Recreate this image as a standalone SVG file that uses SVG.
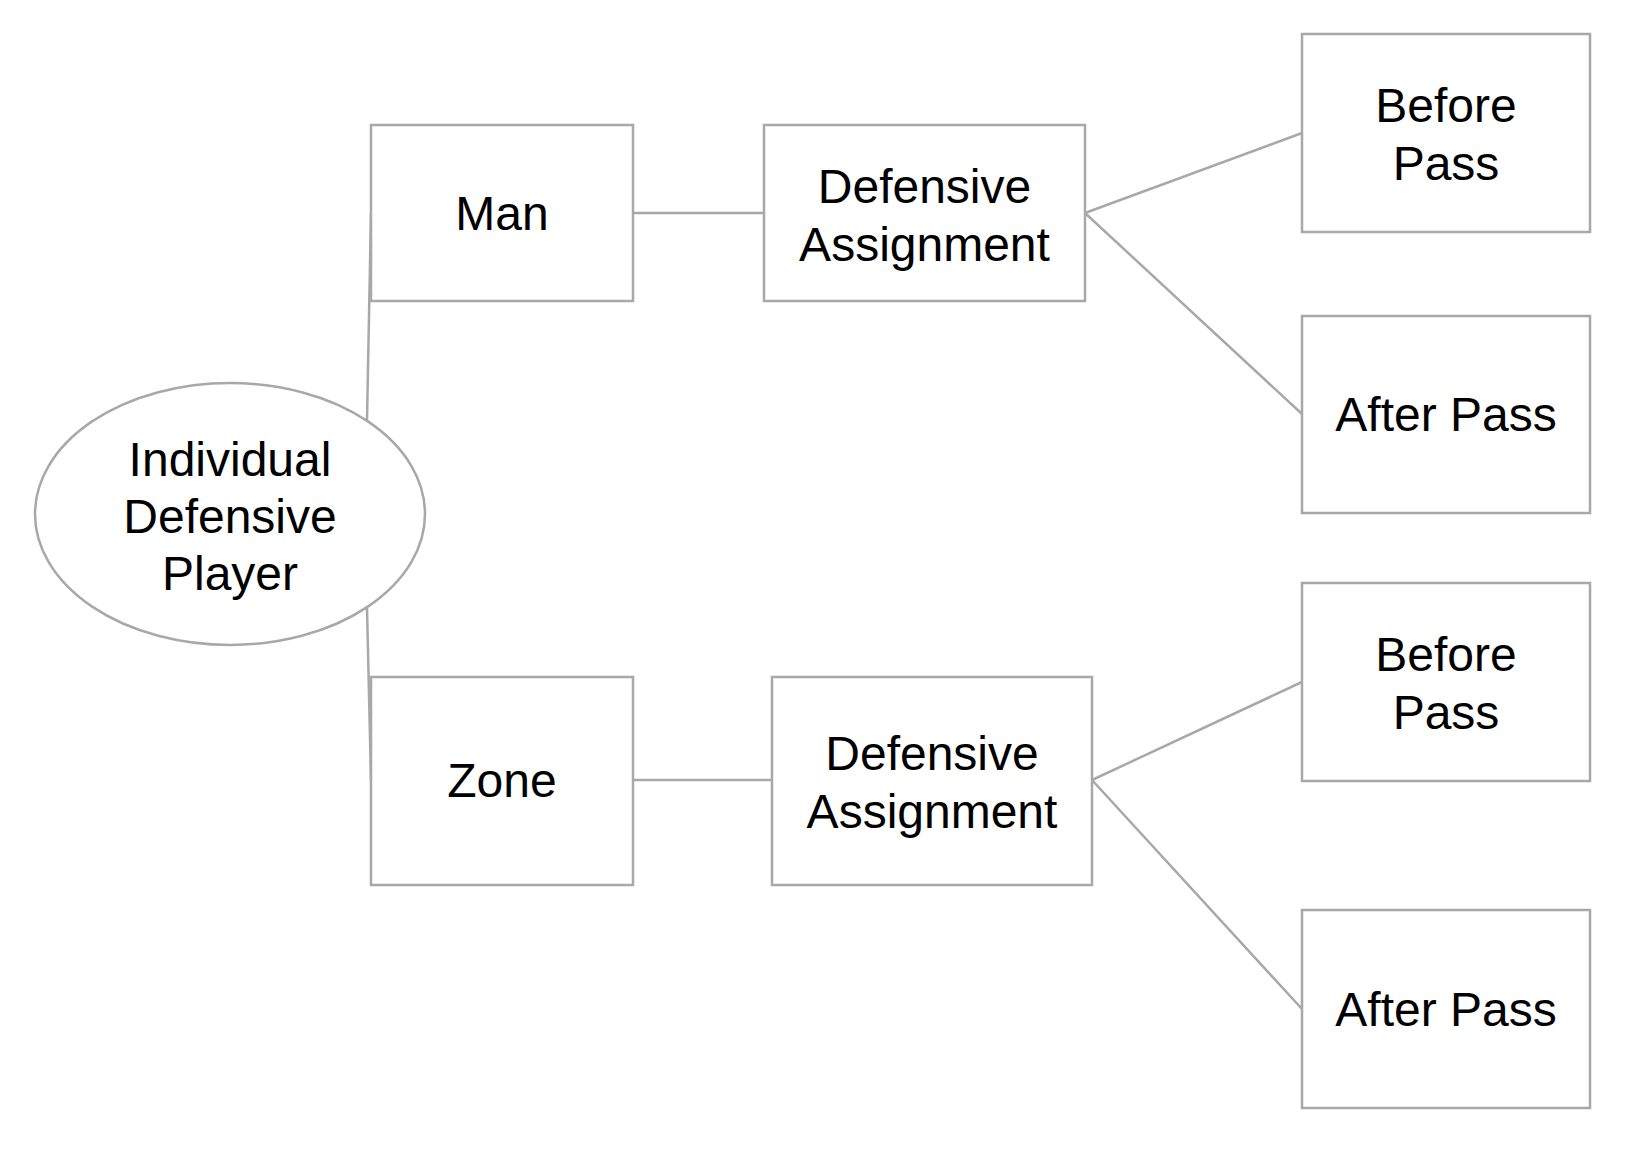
<svg xmlns="http://www.w3.org/2000/svg" width="1638" height="1150" viewBox="0 0 1638 1150">
<style>
.box{fill:#ffffff;stroke:#a8a8a8;stroke-width:2.5}
.ln{fill:none;stroke:#a8a8a8;stroke-width:2.5}
.t{font-family:"Liberation Sans",Arial,sans-serif;font-size:48px;fill:#000000;text-anchor:middle}
</style>
<rect width="1638" height="1150" fill="#ffffff"/>
<g id="connectors">
<line class="ln" x1="367" y1="420" x2="371" y2="213"/>
<line class="ln" x1="367" y1="608" x2="371" y2="780"/>
<line class="ln" x1="633" y1="213" x2="764" y2="213"/>
<line class="ln" x1="633" y1="780" x2="772" y2="780"/>
<line class="ln" x1="1085" y1="213" x2="1302" y2="133"/>
<line class="ln" x1="1085" y1="213" x2="1302" y2="414"/>
<line class="ln" x1="1092" y1="780" x2="1302" y2="682"/>
<line class="ln" x1="1092" y1="780" x2="1302" y2="1009"/>
</g>
<g id="player">
<ellipse class="box" cx="230" cy="514" rx="195" ry="131"/>
<text class="t" x="230" y="476">Individual</text>
<text class="t" x="230" y="533">Defensive</text>
<text class="t" x="230" y="590">Player</text>
</g>
<g id="man">
<rect class="box" x="371" y="125" width="262" height="176"/>
<text class="t" x="502" y="230">Man</text>
</g>
<g id="zone">
<rect class="box" x="371" y="677" width="262" height="208"/>
<text class="t" x="502" y="797">Zone</text>
</g>
<g id="assign1">
<rect class="box" x="764" y="125" width="321" height="176"/>
<text class="t" x="924.5" y="203">Defensive</text>
<text class="t" x="924.5" y="261">Assignment</text>
</g>
<g id="assign2">
<rect class="box" x="772" y="677" width="320" height="208"/>
<text class="t" x="932" y="770">Defensive</text>
<text class="t" x="932" y="828">Assignment</text>
</g>
<g id="before1">
<rect class="box" x="1302" y="34" width="288" height="198"/>
<text class="t" x="1446" y="122">Before</text>
<text class="t" x="1446" y="180">Pass</text>
</g>
<g id="after1">
<rect class="box" x="1302" y="316" width="288" height="197"/>
<text class="t" x="1446" y="431">After Pass</text>
</g>
<g id="before2">
<rect class="box" x="1302" y="583" width="288" height="198"/>
<text class="t" x="1446" y="671">Before</text>
<text class="t" x="1446" y="729">Pass</text>
</g>
<g id="after2">
<rect class="box" x="1302" y="910" width="288" height="198"/>
<text class="t" x="1446" y="1026">After Pass</text>
</g>
</svg>
